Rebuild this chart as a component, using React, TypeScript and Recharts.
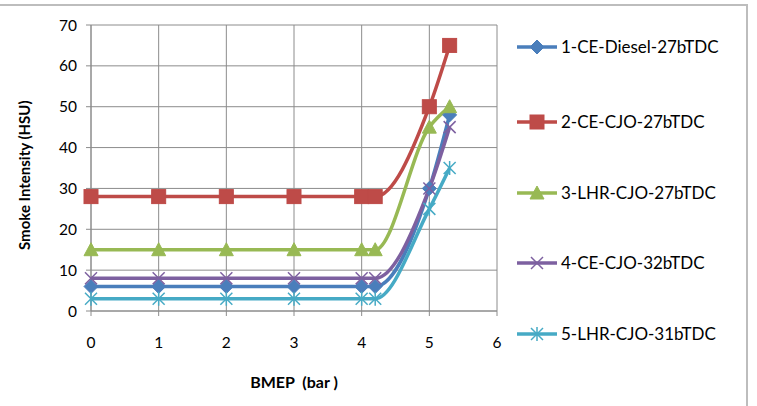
import React from "react";
import { LineChart, Line, XAxis, YAxis, CartesianGrid } from "recharts";

const bmep = [0, 1, 2, 3, 4, 4.2, 5, 5.3];
const diesel27 = [6, 6, 6, 6, 6, 6, 30, 48];
const ceCjo27 = [28, 28, 28, 28, 28, 28, 50, 65];
const lhrCjo27 = [15, 15, 15, 15, 15, 15, 45, 50];
const ceCjo32 = [8, 8, 8, 8, 8, 8, 30, 45];
const lhrCjo31 = [3, 3, 3, 3, 3, 3, 25, 35];
const xTicks = [0, 1, 2, 3, 4, 5, 6];
const yTicks = [0, 10, 20, 30, 40, 50, 60, 70];

const seriesNames = [
  "1-CE-Diesel-27bTDC",
  "2-CE-CJO-27bTDC",
  "3-LHR-CJO-27bTDC",
  "4-CE-CJO-32bTDC",
  "5-LHR-CJO-31bTDC",
];

const data = bmep.map((x, i) => ({
  x,
  s1: diesel27[i],
  s2: ceCjo27[i],
  s3: lhrCjo27[i],
  s4: ceCjo32[i],
  s5: lhrCjo31[i],
}));

const series = [
  { key: "s1", name: seriesNames[0], color: "#4A7EBB", shape: "diamond" },
  { key: "s2", name: seriesNames[1], color: "#BE4B48", shape: "square" },
  { key: "s3", name: seriesNames[2], color: "#98B954", shape: "triangle" },
  { key: "s4", name: seriesNames[3], color: "#7D60A0", shape: "x" },
  { key: "s5", name: seriesNames[4], color: "#46AAC5", shape: "star" },
];

const FONT = "Lato, 'Open Sans', sans-serif";

function Marker({ cx, cy, shape, color }: { cx: number; cy: number; shape: string; color: string }) {
  if (cx == null || cy == null) return null;
  const r = 7;
  switch (shape) {
    case "diamond":
      return (
        <path d={`M${cx},${cy - r} L${cx + r},${cy} L${cx},${cy + r} L${cx - r},${cy} Z`} fill={color} stroke={color} strokeWidth={1} />
      );
    case "square":
      return <rect x={cx - 7} y={cy - 7} width={14} height={14} fill={color} stroke={color} />;
    case "triangle":
      return (
        <path d={`M${cx},${cy - 7} L${cx + 7},${cy + 6} L${cx - 7},${cy + 6} Z`} fill={color} stroke={color} />
      );
    case "x":
      return (
        <g stroke={color} strokeWidth={1.5}>
          <line x1={cx - 6} y1={cy - 6} x2={cx + 6} y2={cy + 6} />
          <line x1={cx - 6} y1={cy + 6} x2={cx + 6} y2={cy - 6} />
        </g>
      );
    case "star":
      return (
        <g stroke={color} strokeWidth={1.5}>
          <line x1={cx - 6} y1={cy - 6} x2={cx + 6} y2={cy + 6} />
          <line x1={cx - 6} y1={cy + 6} x2={cx + 6} y2={cy - 6} />
          <line x1={cx} y1={cy - 7} x2={cx} y2={cy + 7} />
        </g>
      );
    default:
      return null;
  }
}

const legendTops = [47, 122, 193, 263, 334];

export default function App() {
  return (
    <div style={{ position: "absolute", left: 0, top: 0, width: 757, height: 406, background: "#fff", overflow: "hidden" }}>
      <div
        style={{
          position: "absolute",
          left: -4,
          top: 4,
          width: 752,
          height: 420,
          borderTop: "2px solid #bdbdbd",
          borderRight: "2px solid #bdbdbd",
          boxSizing: "border-box",
        }}
      />
      <div style={{ position: "absolute", left: 0, top: 0 }}>
        <LineChart width={757} height={406} data={data} margin={{ top: 25, right: 260, bottom: 65, left: 0 }}>
          <CartesianGrid stroke="#8c8c8c" strokeWidth={1} />
          <XAxis
            type="number"
            dataKey="x"
            domain={[0, 6]}
            ticks={xTicks}
            height={30}
            stroke="#8c8c8c"
            tickSize={5}
            tick={{ fill: "#000", fontSize: 15.5, fontFamily: FONT, dy: 19 }}
            label={{
              value: "BMEP\u00A0\u00A0(bar\u00A0)",
              position: "insideBottom",
              offset: -47,
              style: { fontWeight: 700, fontSize: 16, fontFamily: FONT, fill: "#000" },
            }}
          />
          <YAxis
            type="number"
            domain={[0, 70]}
            ticks={yTicks}
            width={91}
            stroke="#8c8c8c"
            tickSize={5}
            tick={{ fill: "#000", fontSize: 15.5, fontFamily: FONT, dx: -7 }}
            label={{
              value: "Smoke Intensity (HSU)",
              angle: -90,
              position: "insideLeft",
              offset: 25,
              dy: 82,
              style: { fontWeight: 700, fontSize: 15, fontFamily: FONT, fill: "#000" },
            }}
          />
          {series.map((s) => (
            <Line
              key={s.key}
              type="monotone"
              dataKey={s.key}
              name={s.name}
              stroke={s.color}
              strokeWidth={3.5}
              isAnimationActive={false}
              dot={(p: any) => <Marker key={`${s.key}-${p.index}`} cx={p.cx} cy={p.cy} shape={s.shape} color={s.color} />}
              activeDot={false}
            />
          ))}
        </LineChart>
      </div>
      <svg style={{ position: "absolute", left: 0, top: 0 }} width={757} height={406}>
        {series.map((s, i) => {
          const y = legendTops[i];
          return (
            <g key={s.key}>
              <line x1={517} y1={y} x2={557} y2={y} stroke={s.color} strokeWidth={3.5} />
              <Marker cx={537} cy={y} shape={s.shape} color={s.color} />
              <text x={561} y={y} dy={6} fontSize={17} fontFamily={FONT} fill="#000">
                {s.name}
              </text>
            </g>
          );
        })}
      </svg>
    </div>
  );
}
